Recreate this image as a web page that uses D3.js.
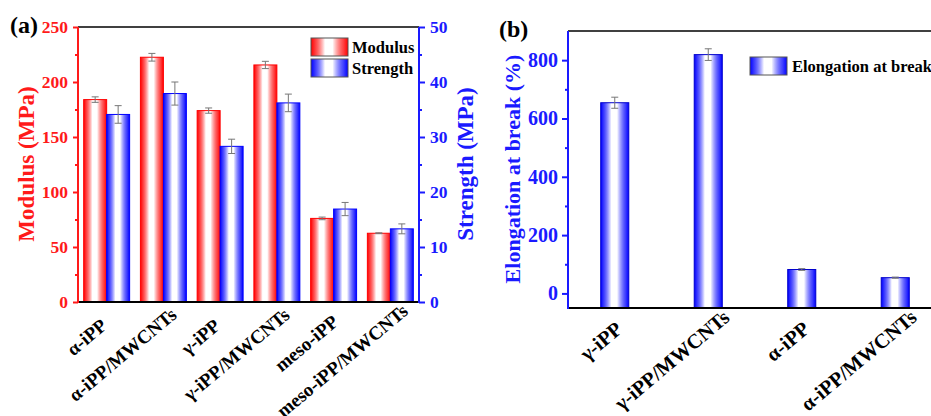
<!DOCTYPE html>
<html>
<head>
<meta charset="utf-8">
<script src="https://cdn.jsdelivr.net/npm/d3@7"></script>
<style>
  body { margin: 0; background: #fff; }
  svg { display: block; font-family: "Liberation Serif", "Times New Roman", serif; font-weight: bold; }
</style>
</head>
<body>
<svg width="931" height="416"></svg>
<script>
// panel (a) data
var samplesA = ["α-iPP", "α-iPP/MWCNTs", "γ-iPP", "γ-iPP/MWCNTs", "meso-iPP", "meso-iPP/MWCNTs"];
var modulus = [184, 222.5, 174, 215.5, 76, 62.5];
var modulusErr = [2.5, 3.5, 2.4, 3.3, 1.2, 0.4];
var strength = [34.1, 37.9, 28.3, 36.2, 16.9, 13.3];
var strengthErr = [1.6, 2.1, 1.3, 1.6, 1.2, 0.9];
var modTicks = [0, 50, 100, 150, 200, 250];
var strTicks = [0, 10, 20, 30, 40, 50];

// panel (b) data
var samplesB = ["γ-iPP", "γ-iPP/MWCNTs", "α-iPP", "α-iPP/MWCNTs"];
var elongation = [654, 819, 82, 54];
var elongationErr = [19, 20, 3, 2];
var elongTicks = [0, 200, 400, 600, 800];

var RED = "#ff1a1a", BLUE = "#1a1aff";
var svg = d3.select("svg");

var defs = svg.append("defs");
function grad(id, c) {
    var g = defs.append("linearGradient").attr("id", id)
        .attr("x1", "0%").attr("x2", "100%").attr("y1", "0%").attr("y2", "0%");
    [[0, c, 1], [0.12, c, 0.75], [0.38, "#fff", 1], [0.58, "#fff", 1], [0.88, c, 0.75], [1, c, 1]]
        .forEach(function(s) {
            g.append("stop").attr("offset", s[0]).attr("stop-color", s[1]).attr("stop-opacity", s[2]);
        });
}
grad("gRed", "#ff0000");
grad("gBlue", "#0000ff");

// rotated category labels
function catLabels(g, names, xs, baseY, dx, size, f) {
    var ang = 40 * Math.PI / 180;
    names.forEach(function(n, i) {
        var t = g.append("text").attr("font-size", size).attr("fill", "#000").text(n);
        var L = t.node().getComputedTextLength();
        var ax = xs[i] + dx - f * L * Math.cos(ang),
            ay = baseY + f * L * Math.sin(ang);
        t.attr("transform", "translate(" + ax + "," + ay + ") rotate(-40)");
    });
}

// ---------- panel (a)
var a = {left: 78, right: 419, top: 27, bottom: 302};
var xA = d3.scaleBand().domain(samplesA).range([a.left, a.right]).paddingInner(0.19).paddingOuter(0.1);
var xSub = d3.scaleBand().domain(["m", "s"]).range([0, xA.bandwidth()]);
var yMod = d3.scaleLinear().domain([0, 250]).range([a.bottom, a.top]);
var yStr = d3.scaleLinear().domain([0, 50]).range([a.bottom, a.top]);

var ga = svg.append("g");

samplesA.forEach(function(s, i) {
    var x0 = xA(s);
    ga.append("rect").attr("x", x0 + xSub("m")).attr("width", xSub.bandwidth())
        .attr("y", yMod(modulus[i])).attr("height", a.bottom - yMod(modulus[i]))
        .attr("fill", "url(#gRed)").attr("stroke", "#ff0000").attr("stroke-width", 1);
    ga.append("rect").attr("x", x0 + xSub("s")).attr("width", xSub.bandwidth())
        .attr("y", yStr(strength[i])).attr("height", a.bottom - yStr(strength[i]))
        .attr("fill", "url(#gBlue)").attr("stroke", "#0000ff").attr("stroke-width", 1);
});

function errBar(g, cx, y1, y2) {
    g.append("line").attr("x1", cx).attr("x2", cx).attr("y1", y1).attr("y2", y2);
    g.append("line").attr("x1", cx - 3.5).attr("x2", cx + 3.5).attr("y1", y1).attr("y2", y1);
    g.append("line").attr("x1", cx - 3.5).attr("x2", cx + 3.5).attr("y1", y2).attr("y2", y2);
}
var eA = ga.append("g").attr("stroke", "#777").attr("stroke-width", 1);
samplesA.forEach(function(s, i) {
    var cm = xA(s) + xSub("m") + xSub.bandwidth() / 2;
    var cs = xA(s) + xSub("s") + xSub.bandwidth() / 2;
    errBar(eA, cm, yMod(modulus[i] + modulusErr[i]), yMod(modulus[i] - modulusErr[i]));
    errBar(eA, cs, yStr(strength[i] + strengthErr[i]), yStr(strength[i] - strengthErr[i]));
});

// frame
ga.append("line").attr("x1", a.left).attr("x2", a.right).attr("y1", a.top).attr("y2", a.top)
    .attr("stroke", "#000").attr("stroke-width", 1.5);
ga.append("line").attr("x1", a.left).attr("x2", a.right).attr("y1", a.bottom).attr("y2", a.bottom)
    .attr("stroke", "#000").attr("stroke-width", 2);

function styleAxis(g, col, size) {
    g.select(".domain").remove();
    g.selectAll(".tick line").attr("stroke", col).attr("stroke-width", 2);
    g.selectAll(".tick text").attr("fill", col).attr("font-size", size)
        .attr("font-family", "Liberation Serif, serif").attr("font-weight", "bold");
}

var axL = ga.append("g").attr("transform", "translate(" + a.left + ",0)")
    .call(d3.axisLeft(yMod).tickValues(modTicks).tickSize(5).tickPadding(5).tickFormat(d3.format("d")));
styleAxis(axL, RED, 17.5);
var axLm = ga.append("g").attr("transform", "translate(" + a.left + ",0)")
    .call(d3.axisLeft(yMod).tickValues([25, 75, 125, 175, 225]).tickSize(3).tickFormat(""));
styleAxis(axLm, RED, 17.5);
ga.append("line").attr("x1", a.left).attr("x2", a.left).attr("y1", a.top).attr("y2", a.bottom + 1)
    .attr("stroke", RED).attr("stroke-width", 2);

var axR = ga.append("g").attr("transform", "translate(" + a.right + ",0)")
    .call(d3.axisRight(yStr).tickValues(strTicks).tickSize(6).tickPadding(5).tickFormat(d3.format("d")));
styleAxis(axR, BLUE, 17.5);
var axRm = ga.append("g").attr("transform", "translate(" + a.right + ",0)")
    .call(d3.axisRight(yStr).tickValues([5, 15, 25, 35, 45]).tickSize(3).tickFormat(""));
styleAxis(axRm, BLUE, 17.5);
ga.append("line").attr("x1", a.right).attr("x2", a.right).attr("y1", a.top).attr("y2", a.bottom + 1)
    .attr("stroke", BLUE).attr("stroke-width", 2);

catLabels(ga, samplesA, samplesA.map(function(s) { return xA(s) + xA.bandwidth() / 2; }), 333, -5, 19, 0.81);

ga.append("text").attr("x", 10).attr("y", 33).attr("font-size", 24).attr("fill", "#000").text("(a)");
ga.append("text").attr("transform", "translate(26,164) rotate(-90)").attr("text-anchor", "middle")
    .attr("dominant-baseline", "central").attr("font-size", 23).attr("fill", RED).text("Modulus (MPa)");
ga.append("text").attr("transform", "translate(465,164) rotate(-90)").attr("text-anchor", "middle")
    .attr("dominant-baseline", "central").attr("font-size", 23).attr("fill", BLUE).text("Strength (MPa)");

// legend (a)
var legA = [["Modulus", "gRed"], ["Strength", "gBlue"]];
legA.forEach(function(d, i) {
    ga.append("rect").attr("x", 311).attr("y", 38 + i * 21).attr("width", 37).attr("height", 18)
        .attr("fill", "url(#" + d[1] + ")").attr("stroke", "#555").attr("stroke-width", 1);
    ga.append("text").attr("x", 352).attr("y", 53 + i * 21).attr("font-size", 16.5).attr("fill", "#000").text(d[0]);
});

// ---------- panel (b)
var b = {left: 568, right: 942, top: 31, bottom: 308};
var xB = d3.scaleBand().domain(samplesB).range([b.left, b.right]).paddingInner(0.7).paddingOuter(0.35);
var yB = d3.scaleLinear().domain([-50, 900]).range([b.bottom, b.top]);
var gb = svg.append("g");

samplesB.forEach(function(s, i) {
    gb.append("rect").attr("x", xB(s)).attr("width", xB.bandwidth())
        .attr("y", yB(elongation[i])).attr("height", b.bottom - yB(elongation[i]))
        .attr("fill", "url(#gBlue)").attr("stroke", "#0000cc").attr("stroke-width", 1);
});
var eB = gb.append("g").attr("stroke", "#777").attr("stroke-width", 1);
samplesB.forEach(function(s, i) {
    var c = xB(s) + xB.bandwidth() / 2;
    errBar(eB, c, yB(elongation[i] + elongationErr[i]), yB(elongation[i] - elongationErr[i]));
});

gb.append("line").attr("x1", b.left).attr("x2", b.right).attr("y1", b.top).attr("y2", b.top)
    .attr("stroke", "#000").attr("stroke-width", 1.5);
gb.append("line").attr("x1", b.left).attr("x2", b.right).attr("y1", b.bottom).attr("y2", b.bottom)
    .attr("stroke", "#000").attr("stroke-width", 2);

var axB = gb.append("g").attr("transform", "translate(" + b.left + ",0)")
    .call(d3.axisLeft(yB).tickValues(elongTicks).tickSize(6).tickPadding(4).tickFormat(d3.format("d")));
styleAxis(axB, BLUE, 20);
var axBm = gb.append("g").attr("transform", "translate(" + b.left + ",0)")
    .call(d3.axisLeft(yB).tickValues([100, 300, 500, 700]).tickSize(3).tickFormat(""));
styleAxis(axBm, BLUE, 20);
gb.append("line").attr("x1", b.left).attr("x2", b.left).attr("y1", b.top).attr("y2", b.bottom + 1)
    .attr("stroke", BLUE).attr("stroke-width", 2);

catLabels(gb, samplesB, samplesB.map(function(s) { return xB(s) + xB.bandwidth() / 2; }), 337, 2, 20.5, 0.81);

gb.append("text").attr("x", 499).attr("y", 37).attr("font-size", 24).attr("fill", "#000").text("(b)");
gb.append("text").attr("transform", "translate(512,169) rotate(-90)").attr("text-anchor", "middle")
    .attr("dominant-baseline", "central").attr("font-size", 22).attr("fill", BLUE).text("Elongation at break (%)");

gb.append("rect").attr("x", 750).attr("y", 57).attr("width", 37).attr("height", 18)
    .attr("fill", "url(#gBlue)").attr("stroke", "#555").attr("stroke-width", 1);
gb.append("text").attr("x", 792).attr("y", 72).attr("font-size", 16.5).attr("fill", "#000").text("Elongation at break");
</script>
</body>
</html>
